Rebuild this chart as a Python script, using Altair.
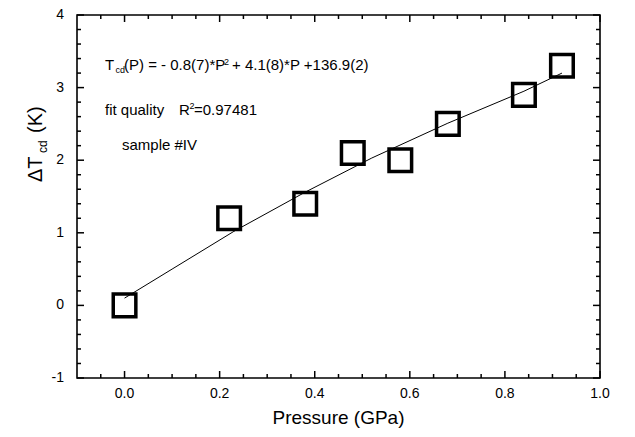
import altair as alt
import pandas as pd

# ---- data ----
pressure = [0.0, 0.22, 0.38, 0.48, 0.58, 0.68, 0.84, 0.92]
delta_t = [0.0, 1.2, 1.4, 2.1, 2.0, 2.5, 2.9, 3.3]

fit_pressure = [0.0, 0.1, 0.23, 0.38, 0.52, 0.68, 0.84, 0.92]
fit_delta_t = [0.1, 0.5, 1.02, 1.56, 2.03, 2.51, 2.95, 3.2]

x_major = [0.0, 0.2, 0.4, 0.6, 0.8, 1.0]
x_minor = [-0.05, 0.05, 0.1, 0.15, 0.25, 0.3, 0.35, 0.45, 0.5, 0.55,
           0.65, 0.7, 0.75, 0.85, 0.9, 0.95]
y_major = [-1, 0, 1, 2, 3, 4]
y_minor = [-0.8, -0.6, -0.4, -0.2, 0.2, 0.4, 0.6, 0.8, 1.2, 1.4, 1.6, 1.8,
           2.2, 2.4, 2.6, 2.8, 3.2, 3.4, 3.6, 3.8]

points_df = pd.DataFrame({"p": pressure, "dt": delta_t})
fit_df = pd.DataFrame({"p": fit_pressure, "dt": fit_delta_t})

W, H = 523, 363
FONT = "Liberation Sans"
MAJOR, MINOR = 7, 4

xs = alt.Scale(domain=[-0.1, 1.0], nice=False, zero=False)
ys = alt.Scale(domain=[-1, 4], nice=False, zero=False)

line = alt.Chart(fit_df).mark_line(color="black", strokeWidth=1).encode(
    x=alt.X("p:Q", scale=xs, axis=None),
    y=alt.Y("dt:Q", scale=ys, axis=None),
)

points = alt.Chart(points_df).mark_point(
    shape="square", filled=False, size=510, strokeWidth=3.5, color="black",
    opacity=1).encode(
    x=alt.X("p:Q", scale=xs, axis=None),
    y=alt.Y("dt:Q", scale=ys, axis=None),
)

# tick positions as small tables; ticks and labels drawn through the scales
xmaj_df = pd.DataFrame({"v": x_major})
xmin_df = pd.DataFrame({"v": x_minor})
ymaj_df = pd.DataFrame({"v": y_major})
ymin_df = pd.DataFrame({"v": y_minor})

tick_layers = []
for df, ln in ((xmaj_df, MAJOR), (xmin_df, MINOR)):
    for y0, y1 in ((H, H - ln), (0, ln)):
        tick_layers.append(
            alt.Chart(df).mark_rule(color="black", strokeWidth=1.5).encode(
                x=alt.X("v:Q", scale=xs, axis=None),
                y=alt.value(y0), y2=alt.value(y1)))
for df, ln in ((ymaj_df, MAJOR), (ymin_df, MINOR)):
    for x0, x1 in ((0, ln), (W, W - ln)):
        tick_layers.append(
            alt.Chart(df).mark_rule(color="black", strokeWidth=1.5).encode(
                y=alt.Y("v:Q", scale=ys, axis=None),
                x=alt.value(x0), x2=alt.value(x1)))

x_labels = alt.Chart(xmaj_df).mark_text(
    font=FONT, fontSize=14, color="black", align="center", baseline="top"
).encode(
    x=alt.X("v:Q", scale=xs, axis=None),
    y=alt.value(H + 9),
    text=alt.Text("v:Q", format=".1f"),
)

y_labels = alt.Chart(ymaj_df).transform_calculate(
    lab="'' + datum.v"
).mark_text(
    font=FONT, fontSize=14, color="black", align="right", baseline="middle"
).encode(
    y=alt.Y("v:Q", scale=ys, axis=None),
    x=alt.value(-13),
    text="lab:N",
)

one_row = pd.DataFrame({"k": [0]})


def piece(text, x, y, size, angle=0, align="left", baseline="alphabetic"):
    return alt.Chart(one_row).mark_text(
        align=align, baseline=baseline, font=FONT, fontSize=size,
        color="black", angle=angle).encode(
        x=alt.value(x), y=alt.value(y), text=alt.value(text))


annotations = [
    piece("Pressure (GPa)", W / 2, H + 31, 19, 0, "center", "top"),
    piece("T", 28, 55, 15),
    piece("cd", 38.5, 58, 9),
    piece("(P) = - 0.8(7)*P", 47, 55, 15),
    piece("2", 147, 50, 9),
    piece("+ 4.1(8)*P +136.9(2)", 155, 55, 15),
    piece("fit quality", 28, 100, 15),
    piece("R", 102, 100, 15),
    piece("2", 112.5, 94, 9),
    piece("=0.97481", 117, 100, 15),
    piece("sample #IV", 45, 135, 15),
    # y-axis title: ΔT_cd (K)
    piece("\u0394T", -35, 167, 20, 270),
    piece("cd", -30.5, 138, 12, 270),
    piece("(K)", -35, 118, 20, 270),
]

chart = alt.layer(line, points, *tick_layers, x_labels, y_labels,
                  *annotations).properties(
    width=W, height=H,
    autosize=alt.AutoSizeParams(type="none"),
    padding={"left": 69, "top": 7, "right": 20, "bottom": 58},
    background="white",
).configure_view(stroke="black", strokeWidth=1.6)

chart.save("out.html", embed_options={"renderer": "svg", "actions": False})
